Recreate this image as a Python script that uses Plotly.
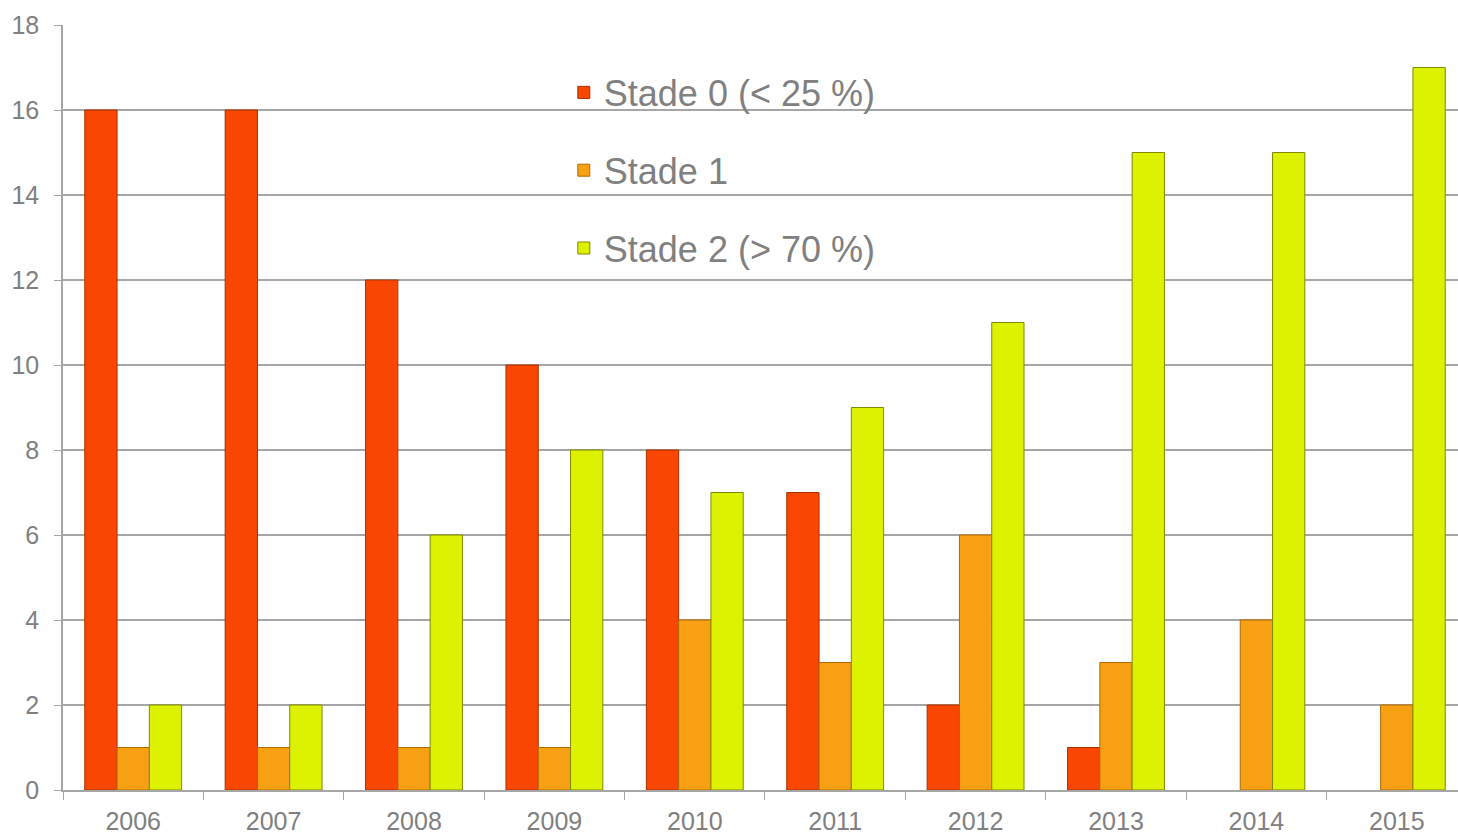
import plotly.graph_objects as go

years = ["2006", "2007", "2008", "2009", "2010", "2011", "2012", "2013", "2014", "2015"]
stade0 = [16, 16, 12, 10, 8, 7, 2, 1, 0, 0]
stade1 = [1, 1, 1, 1, 4, 3, 6, 3, 4, 2]
stade2 = [2, 2, 6, 8, 7, 9, 11, 15, 15, 17]

names = ["Stade 0 (< 25 %)", "Stade 1", "Stade 2 (> 70 %)"]
colors = ["#F94600", "#F8A014", "#DDF200"]
edges = ["#A83000", "#B06A00", "#7F8A00"]

fig = go.Figure()
for i, (vals, nm) in enumerate(zip([stade0, stade1, stade2], names)):
    fig.add_trace(go.Bar(
        x=years, y=vals, name=nm, legendgroup=str(i),
        marker=dict(color=colors[i],
                    line=dict(color=edges[i], width=[1 if v > 0 else 0 for v in vals])),
    ))

axis_font = dict(family="Liberation Sans, Arial, sans-serif", size=25, color="#808080")
fig.update_layout(
    width=1458, height=835,
    margin=dict(l=63, r=0, t=25, b=41),
    paper_bgcolor="white", plot_bgcolor="white",
    barmode="group", bargap=0.31, bargroupgap=0,
    font=axis_font,
    legend=dict(
        x=0.359, y=0.951, xanchor="left", yanchor="top",
        font=dict(family="Liberation Sans, Arial, sans-serif", size=36, color="#808080"),
        bgcolor="rgba(0,0,0,0)", tracegroupgap=28, traceorder="grouped",
    ),
    xaxis=dict(
        range=[-0.5, 9.436],
        showgrid=False, showline=True, linecolor="#A6A6A6", linewidth=1.5,
        ticks="outside", tickson="boundaries", ticklen=8, tickcolor="#A6A6A6",
        tickfont=axis_font, ticklabelstandoff=8,
    ),
    yaxis=dict(
        range=[0, 18], dtick=2, showgrid=True, gridcolor="#A6A6A6", gridwidth=1.5,
        showline=True, linecolor="#A6A6A6", linewidth=1.5,
        ticks="outside", ticklen=7, tickcolor="#A6A6A6",
        tickfont=axis_font, zeroline=False, ticklabelstandoff=10,
    ),
)

fig.write_html("out.html")
